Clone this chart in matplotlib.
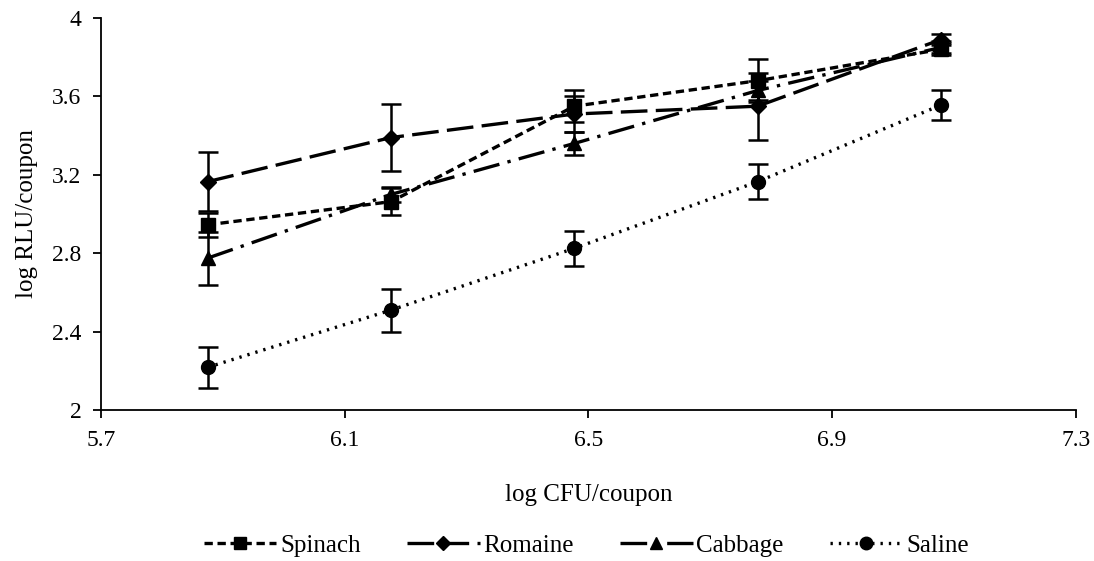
import matplotlib
matplotlib.use("Agg")
import matplotlib.pyplot as plt
from matplotlib.lines import Line2D

plt.rcParams['font.family'] = ['Liberation Serif', 'DejaVu Serif']

x = [5.875, 6.176, 6.477, 6.778, 7.079]
spinach = [2.945, 3.063, 3.55, 3.68, 3.84]
spinach_err = [0.06, 0.07, 0.08, 0.11, 0.03]
romaine = [3.165, 3.39, 3.51, 3.55, 3.89]
romaine_err = [0.15, 0.17, 0.09, 0.17, 0.03]
cabbage = [2.775, 3.10, 3.36, 3.63, 3.85]
cabbage_err = [0.135, 0.04, 0.06, 0.05, 0.03]
saline = [2.218, 2.51, 2.825, 3.165, 3.556]
saline_err = [0.105, 0.11, 0.09, 0.09, 0.075]

fig = plt.figure(figsize=(10.94, 5.61), dpi=100)
ax = fig.add_axes([0.0923, 0.269, 0.891, 0.699])

series = [
    ("Spinach", spinach, spinach_err, 's', (0, (2.5, 1.4))),
    ("Romaine", romaine, romaine_err, 'D', (0, (8, 2.5))),
    ("Cabbage", cabbage, cabbage_err, '^', (0, (8, 2.5, 1, 2.5))),
    ("Saline", saline, saline_err, 'o', (0, (0.7, 1.8))),
]
handles = []
for name, y, e, m, ls in series:
    ms = 10 if m != 'D' else 8
    ax.errorbar(x, y, yerr=e, color='black', marker=m, markersize=ms,
                linestyle=ls, linewidth=2.4, elinewidth=1.8, capsize=7,
                capthick=1.8)
    handles.append(Line2D([], [], color='black', marker=m,
                          markersize=ms - 1, linestyle=ls, linewidth=2.4,
                          label=name))

ax.set_xlim(5.7, 7.3)
ax.set_ylim(2, 4)
ax.set_xticks([5.7, 6.1, 6.5, 6.9, 7.3])
ax.set_xticklabels(['5.7', '6.1', '6.5', '6.9', '7.3'])
ax.set_yticks([2, 2.4, 2.8, 3.2, 3.6, 4])
ax.set_yticklabels(['2', '2.4', '2.8', '3.2', '3.6', '4'])
for s in ['top', 'right']:
    ax.spines[s].set_visible(False)
for s in ['left', 'bottom']:
    ax.spines[s].set_linewidth(1.3)
ax.tick_params(axis='both', direction='out', length=6, width=1.3,
               labelsize=17, pad=8)
ax.set_xlabel('log CFU/coupon', fontsize=18, labelpad=24)
ax.set_ylabel('log RLU/coupon', fontsize=18, labelpad=10)

fig.legend(handles=handles, loc='center', bbox_to_anchor=(0.536, 0.027),
           ncol=4, frameon=False, fontsize=18, handlelength=2.9,
           columnspacing=1.85, handletextpad=0.15, borderpad=0)

fig.savefig('out.png', dpi=100)
